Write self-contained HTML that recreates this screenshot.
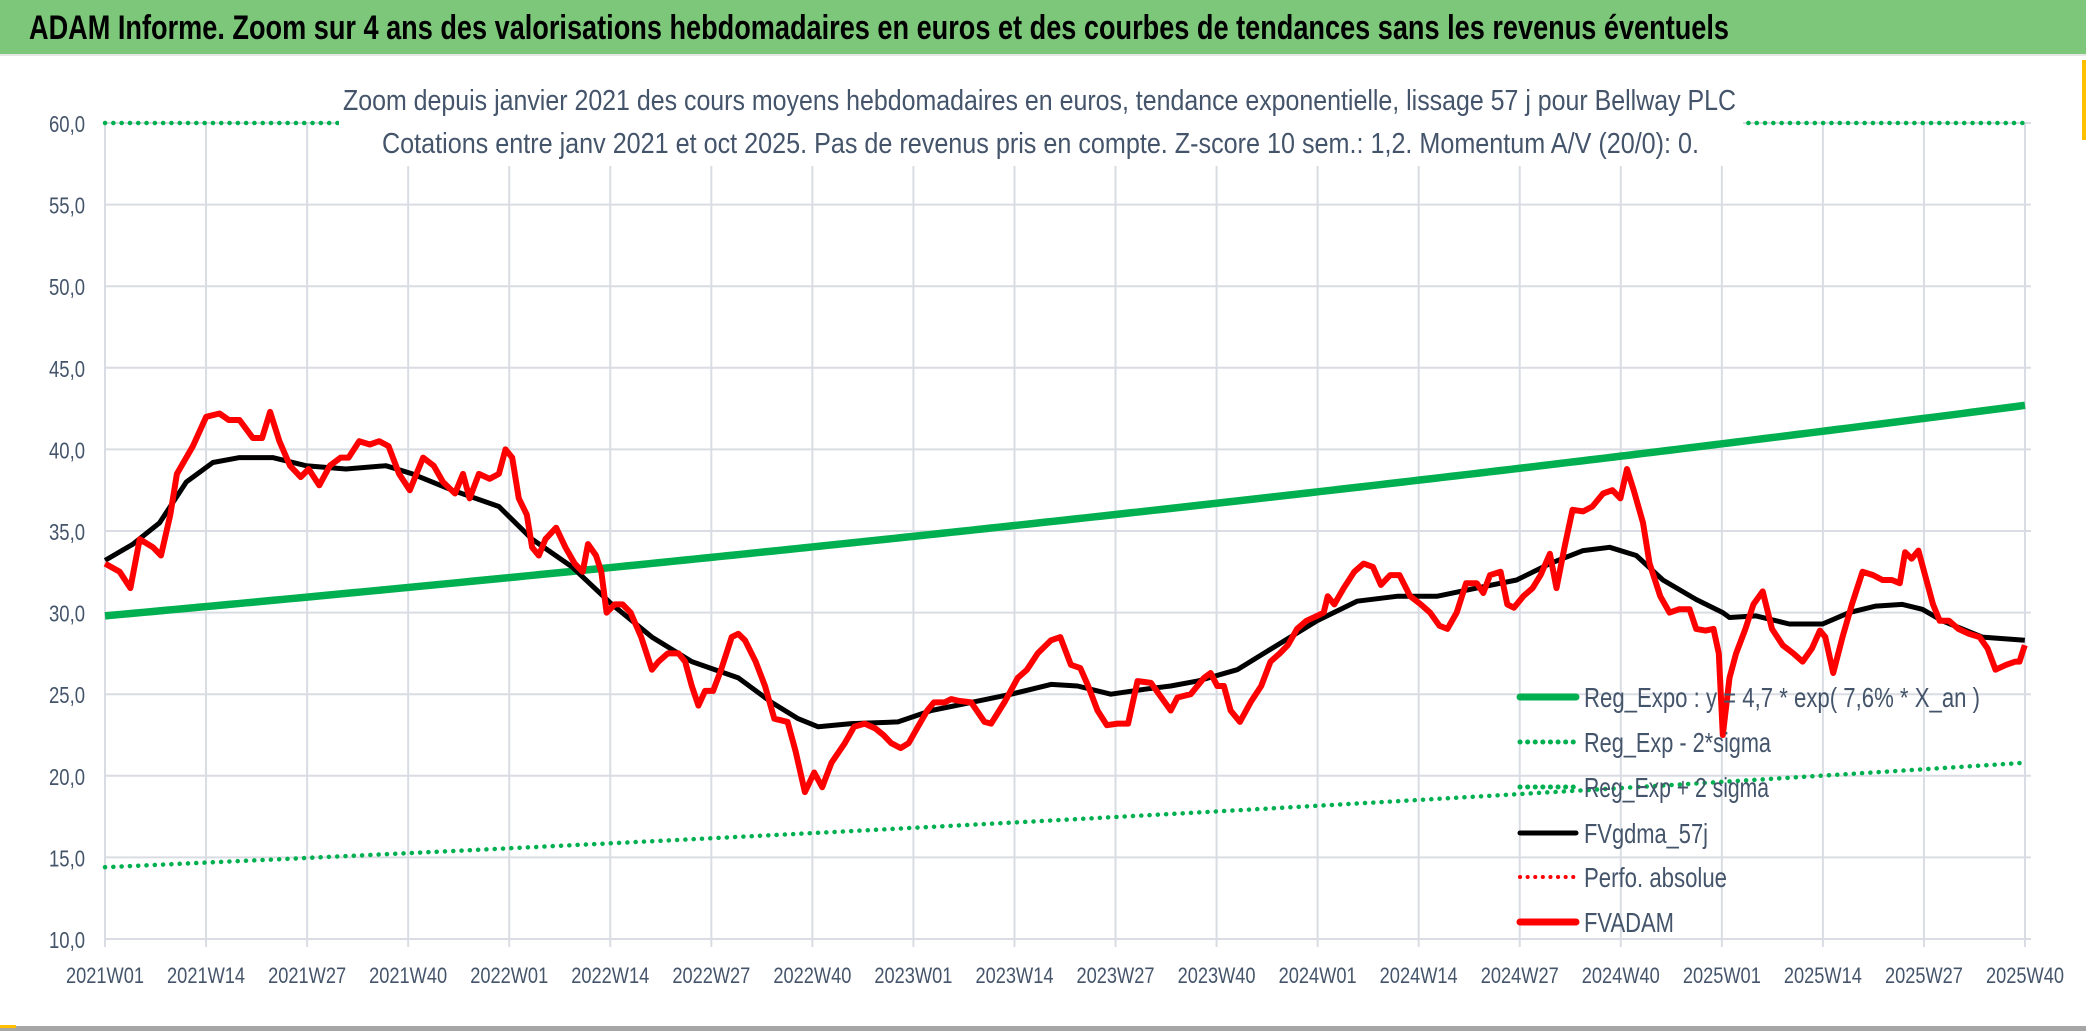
<!DOCTYPE html>
<html><head><meta charset="utf-8"><style>
html,body{margin:0;padding:0;background:#fff;}
svg{display:block;}
text{font-family:"Liberation Sans Narrow","Liberation Sans",sans-serif;}
</style></head><body>
<svg id="s" width="2086" height="1031" viewBox="0 0 2086 1031" xmlns="http://www.w3.org/2000/svg">
<rect x="0" y="0" width="2086" height="1031" fill="#fff"/>
<rect x="0" y="0" width="2086" height="54" fill="#7cc77a"/>
<rect x="0" y="54" width="2086" height="2" fill="#e6e6e6"/>
<text x="29" y="39" font-size="34" font-weight="bold" fill="#000" textLength="1700" lengthAdjust="spacingAndGlyphs">ADAM Informe. Zoom sur 4 ans des valorisations hebdomadaires en euros et des courbes de tendances sans les revenus éventuels</text>
<g id="grid"></g>
<g id="series"></g>
<rect x="339" y="78" width="1404" height="88" fill="#fff"/>
<text x="343" y="110" font-size="29" fill="#44546a" textLength="1393" lengthAdjust="spacingAndGlyphs">Zoom depuis janvier 2021 des cours moyens hebdomadaires en euros, tendance exponentielle, lissage 57 j pour Bellway PLC</text>
<text x="382" y="153" font-size="29" fill="#44546a" textLength="1317" lengthAdjust="spacingAndGlyphs">Cotations entre janv 2021 et oct 2025. Pas de revenus pris en compte. Z-score 10 sem.: 1,2. Momentum A/V (20/0): 0.</text>
<g id="legend" font-size="28" fill="#44546a">
<line x1="1520" y1="697" x2="1576" y2="697" stroke="#00b050" stroke-width="7" stroke-linecap="round"/>
<text x="1584" y="707" textLength="396" lengthAdjust="spacingAndGlyphs">Reg_Expo : y = 4,7 * exp( 7,6% *  X_an )</text>
<line x1="1520" y1="742" x2="1576" y2="742" stroke="#00b050" stroke-width="5" stroke-dasharray="0.1 7.5" stroke-linecap="round"/>
<text x="1584" y="752" textLength="187" lengthAdjust="spacingAndGlyphs">Reg_Exp - 2*sigma</text>
<line x1="1520" y1="787" x2="1576" y2="787" stroke="#00b050" stroke-width="5" stroke-dasharray="0.1 7.5" stroke-linecap="round"/>
<text x="1584" y="797" textLength="185" lengthAdjust="spacingAndGlyphs">Reg_Exp + 2 sigma</text>
<line x1="1520" y1="833" x2="1576" y2="833" stroke="#000" stroke-width="5" stroke-linecap="round"/>
<text x="1584" y="843" textLength="124" lengthAdjust="spacingAndGlyphs">FVgdma_57j</text>
<line x1="1520" y1="877" x2="1576" y2="877" stroke="#f00" stroke-width="4" stroke-dasharray="0.1 7.5" stroke-linecap="round"/>
<text x="1584" y="887" textLength="143" lengthAdjust="spacingAndGlyphs">Perfo. absolue</text>
<line x1="1520" y1="922" x2="1576" y2="922" stroke="#f00" stroke-width="7" stroke-linecap="round"/>
<text x="1584" y="932" textLength="90" lengthAdjust="spacingAndGlyphs">FVADAM</text>
</g>
<rect x="0" y="1026" width="2086" height="5" fill="#a6a6a6"/>
<rect x="0" y="1025" width="16" height="3" fill="#ffc000"/>
<rect x="2082" y="60" width="4" height="80" fill="#ffc000"/>
</svg>
<script>
const NS="http://www.w3.org/2000/svg";
const X0=105,X1=2025,W=247;
const xw=w=>X0+w*(X1-X0)/W;
const yv=v=>939-(v-10)*16.32;
const xd=x=>x*2086/1568;
function el(t,a,p){const e=document.createElementNS(NS,t);for(const k in a)e.setAttribute(k,a[k]);p.appendChild(e);return e;}
const g=document.getElementById('grid');
for(let v=10;v<=60;v+=5){
  el('line',{x1:X0,x2:2031,y1:yv(v),y2:yv(v),stroke:'#d9dde3','stroke-width':2},g);
  const t=el('text',{x:85,y:yv(v)+9,'font-size':23,fill:'#44546a','text-anchor':'end',textLength:36,lengthAdjust:'spacingAndGlyphs'},g);
  t.textContent=v.toFixed(1).replace('.',',');
}
const labs=[];for(let y=2021;y<=2025;y++)for(const w of [1,14,27,40])labs.push(y+'W'+String(w).padStart(2,'0'));
labs.forEach((l,i)=>{const x=xw(i*13);
  el('line',{x1:x,x2:x,y1:123,y2:947,stroke:'#d9dde3','stroke-width':2},g);
  const t=el('text',{x:x,y:983,'font-size':22,fill:'#44546a','text-anchor':'middle',textLength:78,lengthAdjust:'spacingAndGlyphs'},g);
  t.textContent=l;});
const s=document.getElementById('series');
el('line',{x1:X0,x2:X1,y1:yv(60),y2:yv(60),stroke:'#00b050','stroke-width':4.5,'stroke-dasharray':'0.1 8.2','stroke-linecap':'round'},s);
let pl=[],pu=[];
for(let w=0;w<=W;w+=1){const f=w/W;pl.push(xw(w)+','+yv(14.4*Math.pow(20.8/14.4,f)));pu.push(xw(w)+','+yv(29.8*Math.pow(42.7/29.8,f)));}
el('polyline',{points:pl.join(' '),fill:'none',stroke:'#00b050','stroke-width':4.5,'stroke-dasharray':'0.1 8.2','stroke-linecap':'round'},s);
el('polyline',{points:pu.join(' '),fill:'none',stroke:'#00b050','stroke-width':7.5},s);
const red=[79,33.0,90,32.5,98,31.5,105,34.5,115,34.0,121,33.5,128,36,133,38.5,145,40.2,155,42,165,42.2,172,41.8,180,41.8,190,40.7,197,40.7,203,42.3,210,40.5,218,39.0,226,38.3,232,38.8,240,37.8,248,39.0,256,39.5,262,39.5,270,40.5,278,40.3,285,40.5,292,40.2,300,38.5,308,37.5,318,39.5,326,39.0,333,38.0,342,37.3,348,38.5,353,37.0,360,38.5,368,38.2,375,38.5,380,40.0,385,39.5,390,37.0,396,36.0,400,34.0,405,33.5,410,34.5,418,35.2,425,34.0,432,33.0,438,32.5,442,34.2,448,33.5,452,32.5,456,30.0,462,30.5,468,30.5,474,30.0,482,28.5,490,26.5,495,27.0,502,27.5,510,27.5,515,27.0,520,25.5,525,24.3,530,25.2,536,25.2,542,26.5,550,28.5,555,28.7,560,28.3,568,27.0,575,25.5,582,23.5,592,23.3,598,21.5,605,19.0,612,20.2,618,19.3,625,20.8,635,22.0,642,23.0,650,23.2,658,22.9,664,22.5,670,22.0,677,21.7,683,22.0,690,23.0,697,24.0,702,24.5,710,24.5,715,24.7,720,24.6,730,24.5,740,23.3,745,23.2,755,24.5,765,26.0,772,26.5,780,27.5,790,28.3,797,28.5,805,26.8,812,26.6,818,25.5,825,24.0,832,23.1,840,23.2,848,23.2,855,25.8,865,25.7,873,24.8,880,24.0,885,24.8,895,25.0,905,26.0,910,26.3,915,25.5,920,25.5,925,24.0,932,23.3,940,24.5,948,25.5,955,27.0,962,27.5,968,28.0,975,29.0,982,29.5,990,29.8,995,30.0,998,31.0,1003,30.5,1010,31.5,1018,32.5,1025,33.0,1032,32.8,1038,31.7,1045,32.3,1052,32.3,1060,31.0,1068,30.5,1075,30.0,1082,29.2,1088,29.0,1095,30.0,1102,31.8,1110,31.8,1115,31.2,1120,32.3,1128,32.5,1133,30.5,1138,30.3,1145,31.0,1152,31.5,1158,32.3,1165,33.6,1170,31.5,1176,34.0,1182,36.3,1190,36.2,1197,36.5,1205,37.3,1212,37.5,1218,37.0,1223,38.8,1228,37.5,1235,35.5,1240,33.0,1248,31.0,1255,30.0,1262,30.2,1270,30.2,1275,29.0,1282,28.9,1288,29.0,1292,27.5,1295,22.5,1300,26.0,1305,27.5,1312,29.0,1318,30.5,1325,31.3,1332,29.0,1340,28.0,1348,27.5,1355,27.0,1362,27.8,1368,28.9,1372,28.5,1378,26.3,1385,28.5,1392,30.5,1400,32.5,1408,32.3,1415,32.0,1422,32.0,1428,31.8,1432,33.7,1437,33.3,1442,33.8,1448,32.0,1453,30.5,1458,29.5,1465,29.5,1472,29.0,1480,28.7,1488,28.5,1494,27.8,1500,26.5,1508,26.8,1515,27.0,1518,27.0,1522,28.0];
const blk=[79,33.2,100,34.2,120,35.5,140,38,160,39.2,180,39.5,205,39.5,230,39.0,260,38.8,290,39.0,310,38.5,340,37.5,375,36.5,400,34.5,430,32.8,460,30.5,490,28.5,520,27,555,26,580,24.5,600,23.5,615,23.0,640,23.2,675,23.3,700,24,730,24.5,760,25.0,790,25.6,810,25.5,835,25.0,860,25.3,880,25.5,900,25.8,930,26.5,960,28.0,990,29.5,1020,30.7,1050,31.0,1080,31.0,1110,31.5,1140,32.0,1165,33.0,1190,33.8,1210,34.0,1230,33.5,1250,32.0,1275,30.8,1295,30.0,1300,29.7,1320,29.8,1345,29.3,1370,29.3,1390,30.0,1410,30.4,1430,30.5,1445,30.2,1460,29.5,1490,28.5,1522,28.3];
function pts(a){let r=[];for(let i=0;i<a.length;i+=2)r.push(xd(a[i]).toFixed(1)+','+yv(a[i+1]).toFixed(1));return r.join(' ');}
el('polyline',{points:pts(blk),fill:'none',stroke:'#000','stroke-width':5,'stroke-linejoin':'round'},s);
el('polyline',{points:pts(red),fill:'none',stroke:'#f00','stroke-width':6,'stroke-linejoin':'round'},s);
</script>
</body></html>
